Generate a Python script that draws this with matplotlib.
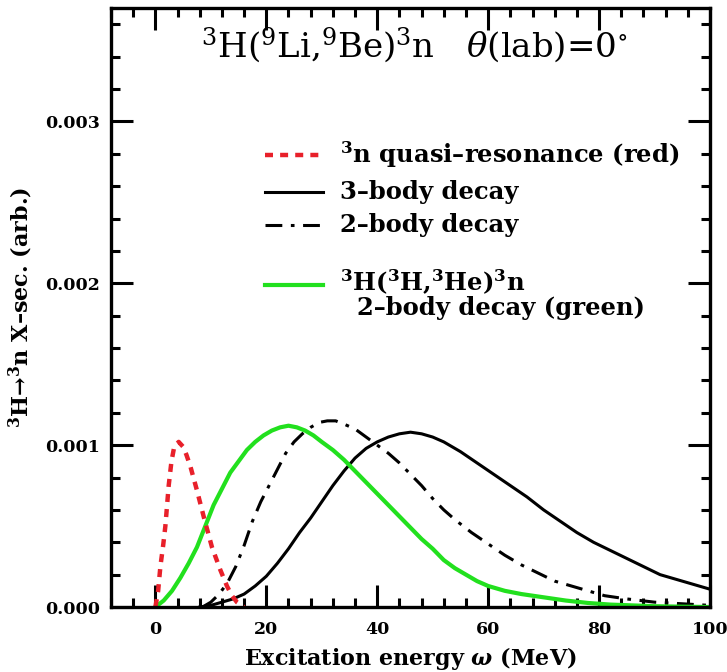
import matplotlib
matplotlib.use("Agg")
import matplotlib.pyplot as plt
from matplotlib.ticker import MultipleLocator, FormatStrFormatter

plt.rcParams['font.family'] = 'DejaVu Serif'
plt.rcParams['mathtext.fontset'] = 'custom'
plt.rcParams['mathtext.rm'] = 'DejaVu Serif'
plt.rcParams['mathtext.it'] = 'DejaVu Serif:italic'
plt.rcParams['mathtext.bf'] = 'DejaVu Serif:bold'
plt.rcParams['mathtext.bfit'] = 'DejaVu Serif:italic:bold'

# 3n quasi-resonance (red, dotted)
res_x = [0, 0.5, 0.9, 1.4, 1.8, 2.4, 2.9, 3.4, 4.2, 5.0, 5.6, 6.3, 7.5, 8.7,
         10.2, 11.7, 12.9, 13.8, 14.7, 16]
res_y = [0, 0.0001, 0.00025, 0.00038, 0.0005, 0.00075, 0.0009, 0.00099,
         0.00102, 0.00099, 0.00094, 0.00087, 0.00072, 0.00056, 0.00037,
         0.00023, 0.00013, 0.00007, 0.00003, 0]

# 3-body decay (solid black)
b3_x = [8, 10, 12, 14, 16, 18, 20, 22, 24, 26, 28, 30, 32, 34, 36, 38, 40,
        42, 44, 46, 48, 50, 52, 55, 58, 61, 64, 67, 70, 73, 76, 79, 82, 85,
        88, 91, 94, 97, 100]
b3_y = [0, 0.00001, 0.00003, 0.00005, 0.00008, 0.00013, 0.00019, 0.00027,
        0.00036, 0.00046, 0.00055, 0.00065, 0.00075, 0.00084, 0.00092,
        0.00098, 0.00102, 0.00105, 0.00107, 0.00108, 0.00107, 0.00105,
        0.00102, 0.00096, 0.00089, 0.00082, 0.00075, 0.00068, 0.0006,
        0.00053, 0.00046, 0.0004, 0.00035, 0.0003, 0.00025, 0.0002,
        0.00017, 0.00014, 0.00011]

# 2-body decay (dash-dot black)
b2_x = [8.5, 10, 11.5, 13, 14.5, 16, 17.5, 19, 20.5, 22, 23.5, 25, 26.5, 28,
        29.5, 31, 32.5, 34, 36, 38, 40, 42, 44, 46, 48, 50, 52, 54, 57, 60,
        63, 66, 69, 72, 75, 78, 81, 85, 90, 95, 100]
b2_y = [0, 0.00003, 0.00008, 0.00015, 0.00025, 0.00038, 0.00053, 0.00065,
        0.00075, 0.00085, 0.00095, 0.00102, 0.00107, 0.00111, 0.00114,
        0.00115, 0.00115, 0.00113, 0.0011, 0.00105, 0.001, 0.00095, 0.00089,
        0.00082, 0.00075, 0.00067, 0.0006, 0.00054, 0.00046, 0.00039,
        0.00032, 0.00026, 0.00021, 0.00016, 0.00013, 0.0001, 0.00007,
        0.00005, 0.00003, 0.00002, 0.00001]

# 3H(3H,3He)3n 2-body decay (green)
tt_x = [0, 1.5, 3, 4.5, 6, 7.5, 9, 10.5, 12, 13.5, 15, 16.5, 18, 19.5, 21,
        22.5, 24, 25.5, 27, 28.5, 30, 32, 34, 36, 38, 40, 42, 44, 46, 48, 50,
        52, 54, 56, 58, 60, 63, 66, 70, 74, 78, 82, 86, 90, 95, 100]
tt_y = [0, 0.00004, 0.0001, 0.00018, 0.00027, 0.00037, 0.0005, 0.00063,
        0.00073, 0.00083, 0.0009, 0.00097, 0.00102, 0.00106, 0.00109,
        0.00111, 0.00112, 0.00111, 0.00109, 0.00106, 0.00102, 0.00097,
        0.00091, 0.00084, 0.00077, 0.0007, 0.00063, 0.00056, 0.00049,
        0.00042, 0.00036, 0.00029, 0.00024, 0.0002, 0.00016, 0.00013,
        0.0001, 0.00008, 0.00006, 0.00004, 0.000025, 0.000015, 0.00001,
        0.000005, 0.000002, 0]

labels = [r"$^{\mathbf{3}}$n quasi–resonance (red)",
          "3–body decay",
          "2–body decay",
          r"$^{\mathbf{3}}$H($^{\mathbf{3}}$H,$^{\mathbf{3}}$He)$^{\mathbf{3}}$n" + "\n  2–body decay (green)"]

red_style = dict(color='#e8202a', lw=3.2, dashes=(1.8, 1.6))
b3_style = dict(color='black', lw=2.2)
b2_style = dict(color='black', lw=2.2, dashes=(5.5, 2.8, 1.2, 2.8))
tt_style = dict(color='#22e01e', lw=3.0)
styles = [red_style, b3_style, b2_style, tt_style]

fig = plt.figure(figsize=(7.27, 6.72), dpi=100)
ax = fig.add_axes([0.1527, 0.0967, 0.8239, 0.8913])

ax.plot(b3_x, b3_y, **b3_style)
ax.plot(b2_x, b2_y, **b2_style)
ax.plot(tt_x, tt_y, **tt_style)
ax.plot(res_x, res_y, **red_style)

ax.set_xlim(-8, 100)
ax.set_ylim(0, 0.0037)

ax.xaxis.set_major_locator(MultipleLocator(20))
ax.xaxis.set_minor_locator(MultipleLocator(4))
ax.yaxis.set_major_locator(MultipleLocator(0.001))
ax.yaxis.set_minor_locator(MultipleLocator(0.0002))
ax.yaxis.set_major_formatter(FormatStrFormatter('%.3f'))

ax.tick_params(which='both', direction='in', top=True, right=True, width=2.2)
ax.tick_params(which='major', length=16, labelsize=12.5, pad=8)
ax.tick_params(axis='x', which='major', pad=10)
ax.tick_params(which='minor', length=6.5)
for lab in ax.get_xticklabels() + ax.get_yticklabels():
    lab.set_fontweight('bold')
for sp in ax.spines.values():
    sp.set_linewidth(2.4)

ax.set_xlabel(r"Excitation energy $\mathbfit{\omega}$ (MeV)", fontsize=16,
              fontweight='bold', labelpad=5)
ax.set_ylabel(r"$^{\mathbf{3}}$H→$^{\mathbf{3}}$n X–sec. (arb.)", fontsize=16,
              fontweight='bold', labelpad=7)

ax.text(0.507, 0.938,
        r"$^{3}$H($^{9}$Li,$^{9}$Be)$^{3}$n   $\theta$(lab)=0$^{\circ}$",
        transform=ax.transAxes, ha='center', va='center', fontsize=24.5)

# legend drawn by hand
rows_y = [0.7546, 0.6933, 0.6377, 0.5376]
for yy, lab, st in zip(rows_y, labels, styles):
    ax.plot([0.257, 0.354], [yy, yy], transform=ax.transAxes, **st)
    if "\n" in lab:
        top, bottom = lab.split("\n")
        ax.text(0.382, yy + 0.005, top, transform=ax.transAxes, ha='left',
                va='center', fontsize=17.5, fontweight='bold')
        ax.text(0.382, yy - 0.038, bottom, transform=ax.transAxes, ha='left',
                va='center', fontsize=17.5, fontweight='bold')
    else:
        ax.text(0.382, yy, lab, transform=ax.transAxes, ha='left',
                va='center', fontsize=17.5, fontweight='bold')

fig.savefig("out.png", dpi=100)
